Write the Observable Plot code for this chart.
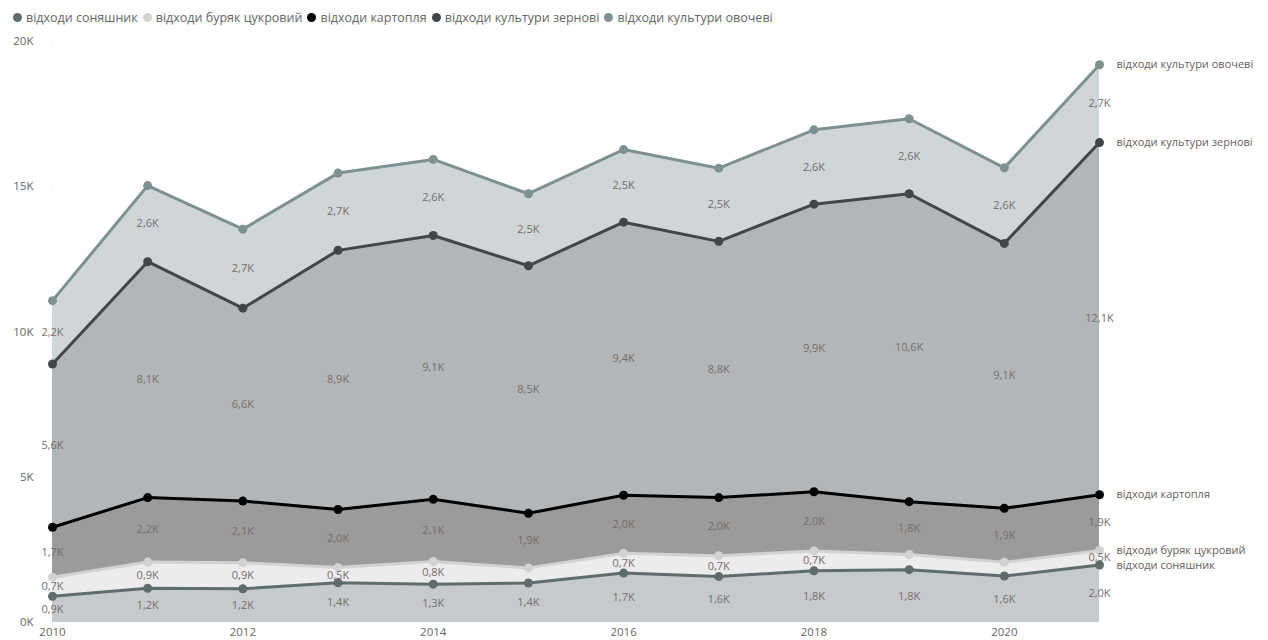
<!DOCTYPE html>
<html><head><meta charset="utf-8">
<script src="https://cdn.jsdelivr.net/npm/d3@7"></script>
<script src="https://cdn.jsdelivr.net/npm/@observablehq/plot@0.6"></script>
<style>
body{margin:0;background:#fff;font-family:"Open Sans",sans-serif;}
#legend{height:30px;box-sizing:border-box;padding-top:4px;display:flex;align-items:center;padding-left:13px;font-size:12.5px;color:#666;white-space:nowrap;}
.item{display:flex;align-items:center;margin-right:5px;}
.sw{width:9px;height:9px;border-radius:50%;margin-right:4px;}
</style></head><body>
<div id="legend"></div><div id="chart"></div>
<script>
const years = [2010,2011,2012,2013,2014,2015,2016,2017,2018,2019,2020,2021];
const seriesNames = ["відходи соняшник","відходи буряк цукровий","відходи картопля","відходи культури зернові","відходи культури овочеві"];
const sunflower  = [900,1180,1160,1370,1320,1360,1700,1580,1780,1820,1600,1980];
const sugarBeet  = [660,900,900,520,780,520,680,720,680,520,470,500];
const potato     = [1720,2220,2120,2000,2140,1880,2000,2000,2040,1820,1860,1920];
const grain      = [5620,8120,6640,8920,9080,8520,9400,8820,9900,10600,9120,12120];
const vegetables = [2180,2620,2720,2660,2620,2480,2500,2520,2560,2580,2600,2680];
const yTicks = [0,5000,10000,15000,20000];
const xTicks = [2010,2012,2014,2016,2018,2020];
// labels that the reference hides (series index, year)
const hiddenLabels = [[1,2015],[1,2019],[1,2020]];

const lineColors = ["#5f6c6e","#d2d2d2","#000000","#41464a","#7e9192"];
const areaColors = ["#c6cacc","#ececec","#9b9b9b","#b3b6b8","#d0d6d8"];

const values = [sunflower, sugarBeet, potato, grain, vegetables];
const data = [];
years.forEach((yr, i) => {
  seriesNames.forEach((s, k) => {
    data.push({year: yr, series: s, value: values[k][i], k,
      hidden: hiddenLabels.some(([hk, hy]) => hk === k && hy === yr)});
  });
});

const fmt = v => (v/1000).toFixed(1).replace(".", ",") + "K";

// legend
const lg = document.getElementById("legend");
seriesNames.forEach((s, k) => {
  const it = document.createElement("div"); it.className = "item";
  const sw = document.createElement("div"); sw.className = "sw"; sw.style.background = lineColors[k];
  const tx = document.createElement("span"); tx.textContent = s;
  it.appendChild(sw); it.appendChild(tx); lg.appendChild(it);
});

const colorDomain = [...seriesNames, ...seriesNames.map(s => s + "|area")];
const colorRange = [...lineColors, ...areaColors];

const chart = Plot.plot({
  width: 1268,
  height: 610,
  marginLeft: 52,
  marginRight: 169,
  marginTop: 11,
  marginBottom: 18,
  style: {fontFamily: "'Open Sans', sans-serif", background: "#fff"},
  x: {domain: [2010, 2021], ticks: xTicks, tickFormat: d => String(d), tickSize: 0, tickPadding: 5, label: null},
  y: {domain: [0, 20000], ticks: yTicks, tickFormat: d => (d/1000) + "K", tickSize: 0, tickPadding: 19, label: null},
  color: {domain: colorDomain, range: colorRange},
  marks: [
    Plot.gridX(xTicks, {stroke: "#d8d8d8", strokeDasharray: "1,3", strokeOpacity: 0.3}),
    Plot.gridY(yTicks, {stroke: "#d8d8d8", strokeDasharray: "1,3", strokeOpacity: 0.3}),
    Plot.areaY(data, Plot.stackY({x: "year", y: "value", z: "series", fill: d => d.series + "|area", fillOpacity: 1})),
    Plot.line(data, Plot.stackY2({x: "year", y: "value", z: "series", stroke: "series", strokeWidth: 3, strokeLinejoin: "round"})),
    Plot.dot(data, Plot.stackY2({x: "year", y: "value", z: "series", fill: "series", r: 4.5})),
    Plot.text(data, Plot.stackY({x: "year", y: "value", z: "series",
      text: d => d.hidden ? null : fmt(d.value), fill: "#776e69", fontSize: 11})),
    Plot.text(data, Plot.filter(d => d.year === 2021, Plot.stackY2({x: "year", y: "value", z: "series",
      text: "series", dx: 17, textAnchor: "start", fill: "#67605c", fontSize: 11}))),
    Plot.axisX({ticks: xTicks, tickSize: 0, tickPadding: 5, tickFormat: d => String(d), fontSize: 11.5, color: "#666"}),
    Plot.axisY({ticks: yTicks, tickSize: 0, tickPadding: 19, tickFormat: d => (d/1000) + "K", fontSize: 11.5, color: "#666"})
  ]
});
document.getElementById("chart").appendChild(chart);
</script>
</body></html>
